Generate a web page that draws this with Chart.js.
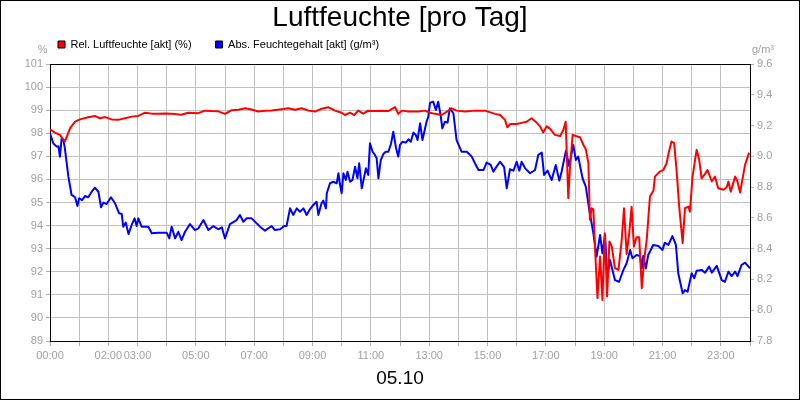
<!DOCTYPE html>
<html>
<head>
<meta charset="utf-8">
<title>Luftfeuchte [pro Tag]</title>
<script src="https://cdn.jsdelivr.net/npm/chart.js@4.4.1/dist/chart.umd.min.js"></script>
<style>
  html, body { margin: 0; padding: 0; background: #fff; }
</style>
</head>
<body>
<canvas id="chart" width="800" height="400"></canvas>
<script>
// Rel. Luftfeuchte (%), time in hours of the day
const relTime = [
    0.0, 0.17, 0.34, 0.51, 0.69, 0.86, 1.03, 1.31, 1.54, 1.71, 1.89, 2.11, 2.34, 2.57, 2.8, 3.03,
    3.26, 3.49, 3.71, 3.94, 4.17, 4.5, 4.74, 5.09, 5.31, 5.54, 5.77, 6.0, 6.23, 6.46, 6.69, 6.91,
    7.14, 7.37, 7.6, 7.94, 8.17, 8.4, 8.63, 8.86, 9.09, 9.31, 9.54, 9.77, 10.0, 10.11, 10.29, 10.43,
    10.57, 10.74, 10.91, 11.14, 11.37, 11.6, 11.83, 11.94, 12.06, 12.29, 12.63, 12.86, 13.03, 13.2,
    13.43, 13.66, 13.77, 13.94, 14.23, 14.57, 14.91, 15.26, 15.43, 15.6, 15.68, 15.77, 16.0, 16.17,
    16.34, 16.51, 16.69, 16.8, 16.91, 17.03, 17.14, 17.31, 17.49, 17.6, 17.68, 17.77, 17.83, 17.92,
    18.03, 18.17, 18.29, 18.37, 18.46, 18.51, 18.57, 18.63, 18.69, 18.77, 18.86, 18.94, 19.02, 19.1,
    19.18, 19.26, 19.37, 19.49, 19.6, 19.68, 19.77, 19.86, 19.94, 20.02, 20.11, 20.2, 20.29, 20.37,
    20.46, 20.57, 20.69, 20.74, 20.91, 21.03, 21.14, 21.22, 21.31, 21.4, 21.49, 21.57, 21.69, 21.77,
    21.89, 21.94, 22.03, 22.17, 22.26, 22.34, 22.46, 22.54, 22.69, 22.8, 22.91, 23.09, 23.2, 23.26,
    23.34, 23.49, 23.57, 23.66, 23.83, 23.97
];
const relValues = [
    98.17, 98.03, 97.93, 97.64, 98.22, 98.5, 98.6, 98.69, 98.75, 98.65, 98.7, 98.6, 98.58, 98.65, 98.72, 98.75,
    98.89, 98.85, 98.84, 98.86, 98.84, 98.8, 98.89, 98.87, 98.98, 98.96, 98.95, 98.84, 99.0, 99.02, 99.08, 99.03,
    98.94, 98.97, 98.99, 99.04, 99.08, 99.02, 99.08, 98.98, 98.94, 99.06, 99.13, 98.98, 98.89, 98.79, 98.89, 98.79,
    98.98, 98.85, 98.98, 98.96, 98.98, 98.96, 99.13, 98.84, 98.98, 98.94, 98.94, 98.98, 98.89, 98.84,
    98.79, 98.98, 99.08, 98.98, 98.94, 98.98, 98.98, 98.84, 98.79, 98.58, 98.26, 98.4, 98.4, 98.45,
    98.5, 98.65, 98.45, 98.3, 98.03, 98.3, 98.2, 97.93, 97.88, 98.14, 98.5, 95.19, 96.56, 97.93,
    97.88, 97.83, 97.49, 97.31, 96.7, 94.25, 94.75, 94.7, 92.95, 90.86, 92.66, 90.78, 93.67, 90.93,
    93.31, 93.1, 92.16, 92.08, 93.35, 94.75, 92.77, 93.67, 94.82, 93.09, 93.5, 93.5, 91.29, 92.5,
    93.4, 95.26, 95.52, 96.12, 96.34, 96.41, 96.7, 97.2, 97.64, 97.57, 96.27, 94.85, 93.24, 94.75,
    94.82, 94.6, 96.12, 97.28, 96.84, 96.05, 96.24, 96.41, 95.91, 96.12, 95.62, 95.55, 95.66, 95.91,
    95.47, 96.12, 95.91, 95.43, 96.63, 97.16
];

// Abs. Feuchtegehalt (g/m³)
const absTime = [
    0.0, 0.11, 0.23, 0.29, 0.34, 0.4, 0.46, 0.51, 0.63, 0.74, 0.86, 0.94, 1.0, 1.1, 1.2, 1.31,
    1.43, 1.54, 1.66, 1.75, 1.83, 1.94, 2.09, 2.23, 2.37, 2.46, 2.51, 2.6, 2.69, 2.8, 2.9, 2.97,
    3.03, 3.14, 3.37, 3.49, 3.71, 4.0, 4.09, 4.17, 4.29, 4.4, 4.51, 4.63, 4.8, 4.97, 5.09, 5.26,
    5.43, 5.6, 5.77, 5.89, 6.0, 6.17, 6.4, 6.51, 6.63, 6.74, 6.91, 7.2, 7.37, 7.6, 7.71, 7.89,
    8.03, 8.11, 8.23, 8.34, 8.46, 8.57, 8.69, 8.8, 8.91, 9.03, 9.14, 9.2, 9.31, 9.37, 9.46, 9.49,
    9.6, 9.71, 9.83, 9.89, 9.94, 10.0, 10.06, 10.14, 10.2, 10.29, 10.37, 10.46, 10.54, 10.6, 10.69, 10.83,
    10.91, 10.97, 11.06, 11.14, 11.2, 11.26, 11.34, 11.43, 11.51, 11.6, 11.69, 11.77, 11.86, 11.94, 12.0, 12.09,
    12.2, 12.29, 12.37, 12.46, 12.54, 12.6, 12.69, 12.77, 12.86, 12.91, 12.97, 13.03, 13.14, 13.23, 13.31, 13.4,
    13.45, 13.54, 13.63, 13.71, 13.83, 13.94, 14.11, 14.29, 14.46, 14.57, 14.69, 14.86, 14.97, 15.11, 15.2, 15.31,
    15.43, 15.57, 15.66, 15.77, 15.89, 16.0, 16.09, 16.17, 16.29, 16.46, 16.63, 16.74, 16.86, 16.94, 17.06, 17.2,
    17.34, 17.46, 17.54, 17.69, 17.8, 17.94, 18.03, 18.11, 18.26, 18.37, 18.49, 18.63, 18.74, 18.86, 18.94, 19.03,
    19.11, 19.2, 19.37, 19.51, 19.66, 19.77, 19.89, 19.97, 20.11, 20.23, 20.29, 20.34, 20.43, 20.51, 20.68, 20.86,
    21.0, 21.08, 21.2, 21.34, 21.46, 21.54, 21.69, 21.77, 21.86, 22.0, 22.09, 22.17, 22.34, 22.46, 22.6, 22.69,
    22.86, 23.03, 23.14, 23.26, 23.37, 23.49, 23.57, 23.71, 23.83, 24.0
];
const absValues = [
    9.15, 9.085, 9.063, 9.065, 8.998, 9.117, 9.106, 9.052, 8.868, 8.749, 8.734, 8.677, 8.727, 8.716, 8.742, 8.734,
    8.77, 8.796, 8.77, 8.669, 8.699, 8.69, 8.734, 8.695, 8.63, 8.625, 8.543, 8.569, 8.495, 8.554, 8.597, 8.547,
    8.597, 8.543, 8.543, 8.5, 8.504, 8.504, 8.467, 8.543, 8.467, 8.51, 8.456, 8.51, 8.56, 8.521, 8.532, 8.586,
    8.521, 8.547, 8.526, 8.539, 8.467, 8.56, 8.586, 8.619, 8.575, 8.597, 8.597, 8.543, 8.517, 8.547, 8.521, 8.526,
    8.547, 8.547, 8.662, 8.619, 8.662, 8.64, 8.662, 8.619, 8.656, 8.684, 8.705, 8.619, 8.695, 8.712, 8.662, 8.76,
    8.825, 8.835, 8.825, 8.89, 8.82, 8.76, 8.89, 8.846, 8.9, 8.835, 8.846, 8.933, 8.857, 8.955, 8.792, 8.922,
    8.879, 9.085, 9.03, 9.009, 8.987, 8.857, 8.976, 9.015, 9.03, 9.03, 9.08, 9.16, 9.058, 8.998, 9.074, 9.095,
    9.089, 9.111, 9.095, 9.154, 9.139, 9.106, 9.215, 9.106, 9.182, 9.225, 9.257, 9.349, 9.355, 9.301, 9.355, 9.257,
    9.182, 9.225, 9.219, 9.312, 9.28, 9.106, 9.03, 9.03, 8.998, 8.955, 8.911, 8.911, 8.959, 8.944, 8.9, 8.933,
    8.965, 8.93, 8.792, 8.916, 8.907, 8.965, 8.907, 8.965, 8.922, 8.89, 8.911, 9.009, 9.024, 8.879, 8.907, 8.846,
    8.944, 8.842, 8.9, 9.037, 8.937, 9.074, 8.976, 8.998, 8.857, 8.803, 8.651, 8.5, 8.348, 8.489, 8.37, 8.489,
    8.208, 8.327, 8.196, 8.185, 8.262, 8.305, 8.392, 8.338, 8.359, 8.352, 8.272, 8.352, 8.272, 8.359, 8.424, 8.417,
    8.392, 8.439, 8.424, 8.482, 8.424, 8.24, 8.11, 8.131, 8.12, 8.24, 8.208, 8.257, 8.262, 8.244, 8.283, 8.244,
    8.288, 8.196, 8.185, 8.251, 8.222, 8.251, 8.222, 8.294, 8.309, 8.272
];

// hours that get a label on the time axis
const xLabelHours = [0, 2, 3, 5, 7, 9, 11, 13, 15, 17, 19, 21, 23];

const FONT = "'Liberation Sans', Arial, sans-serif";
const GRID_COLOR = '#c0c0c0';
const TICK_COLOR = '#a0a0a0';

const toPoints = (times, values) => times.map((t, i) => ({ x: t, y: values[i] }));

// Positions legend, draws unit labels, plot top edge and outer frame
const chartFrame = {
    id: 'chartFrame',
    afterLayout(chart) {
        const lg = chart.legend;
        lg.left = 34;
        lg.right = 800;
        lg.top = 15;
        lg.bottom = 64;
    },
    beforeDraw(chart) {
        const ctx = chart.ctx;
        ctx.save();
        ctx.fillStyle = '#ffffff';
        ctx.fillRect(0, 0, chart.width, chart.height);
        ctx.restore();
    },
    afterDraw(chart) {
        const ctx = chart.ctx;
        const area = chart.chartArea;
        ctx.save();
        ctx.font = '11px ' + FONT;
        ctx.fillStyle = TICK_COLOR;
        ctx.textBaseline = 'alphabetic';
        ctx.textAlign = 'right';
        ctx.fillText('%', 47.5, 53);
        ctx.textAlign = 'left';
        ctx.fillText('g/m³', 752, 53);

        ctx.strokeStyle = '#000000';
        ctx.lineWidth = 1;
        ctx.beginPath();
        ctx.moveTo(area.left, Math.round(area.top) + 0.5);
        ctx.lineTo(area.right, Math.round(area.top) + 0.5);
        ctx.stroke();
        ctx.strokeRect(0.5, 0.5, chart.width - 1, chart.height - 1);
        ctx.restore();
    }
};

new Chart(document.getElementById('chart'), {
    type: 'line',
    data: {
        datasets: [{
            label: 'Rel. Luftfeuchte [akt] (%)',
            data: toPoints(relTime, relValues),
            yAxisID: 'y',
            borderColor: '#ff0000',
            backgroundColor: '#ff0000',
            borderWidth: 2,
            borderJoinStyle: 'round',
            pointRadius: 0,
            tension: 0
        }, {
            label: 'Abs. Feuchtegehalt [akt] (g/m³)',
            data: toPoints(absTime, absValues),
            yAxisID: 'y1',
            borderColor: '#0000ff',
            backgroundColor: '#0000ff',
            borderWidth: 2,
            borderJoinStyle: 'round',
            pointRadius: 0,
            tension: 0
        }]
    },
    options: {
        responsive: false,
        animation: false,
        layout: { padding: 0 },
        plugins: {
            title: {
                display: true,
                text: 'Luftfeuchte [pro Tag]',
                color: '#000000',
                font: { family: FONT, size: 28, weight: 'normal' },
                padding: { top: 1, bottom: 0 }
            },
            subtitle: {
                display: true,
                position: 'bottom',
                text: '05.10',
                color: '#000000',
                font: { family: FONT, size: 19, weight: 'normal' },
                padding: { top: 0, bottom: 10.3 }
            },
            legend: {
                display: true,
                align: 'start',
                maxHeight: 29.4,
                labels: {
                    color: '#000000',
                    font: { family: FONT, size: 11 },
                    boxWidth: 7,
                    boxHeight: 7,
                    padding: 24,
                    generateLabels(chart) {
                        return Chart.defaults.plugins.legend.labels.generateLabels(chart)
                            .map(item => Object.assign(item, { strokeStyle: '#000000', lineWidth: 1 }));
                    }
                }
            },
            tooltip: { enabled: false }
        },
        scales: {
            x: {
                type: 'linear',
                min: 0,
                max: 24,
                afterFit(scale) { scale.height = 25.9; },
                border: { color: '#000000', width: 1 },
                grid: { color: GRID_COLOR, tickColor: '#b0b0b0', tickLength: 5 },
                ticks: {
                    stepSize: 1,
                    autoSkip: false,
                    maxRotation: 0,
                    padding: 3,
                    color: TICK_COLOR,
                    font: { family: FONT, size: 11 },
                    callback: (v) => xLabelHours.includes(v) ? String(v).padStart(2, '0') + ':00' : ''
                }
            },
            y: {
                position: 'left',
                min: 89,
                max: 101,
                afterFit(scale) { scale.width = 50; },
                border: { color: '#000000', width: 1 },
                grid: { color: GRID_COLOR, tickColor: '#b0b0b0', tickLength: 4 },
                ticks: {
                    stepSize: 1,
                    padding: 3,
                    color: TICK_COLOR,
                    font: { family: FONT, size: 11 }
                }
            },
            y1: {
                position: 'right',
                min: 7.8,
                max: 9.6,
                afterFit(scale) { scale.width = 50; },
                border: { color: '#000000', width: 1 },
                grid: { drawOnChartArea: false, tickColor: '#b0b0b0', tickLength: 4 },
                ticks: {
                    stepSize: 0.2,
                    padding: 3,
                    color: TICK_COLOR,
                    font: { family: FONT, size: 11 },
                    callback: (v) => v.toFixed(1)
                }
            }
        }
    },
    plugins: [chartFrame]
});
</script>
</body>
</html>
